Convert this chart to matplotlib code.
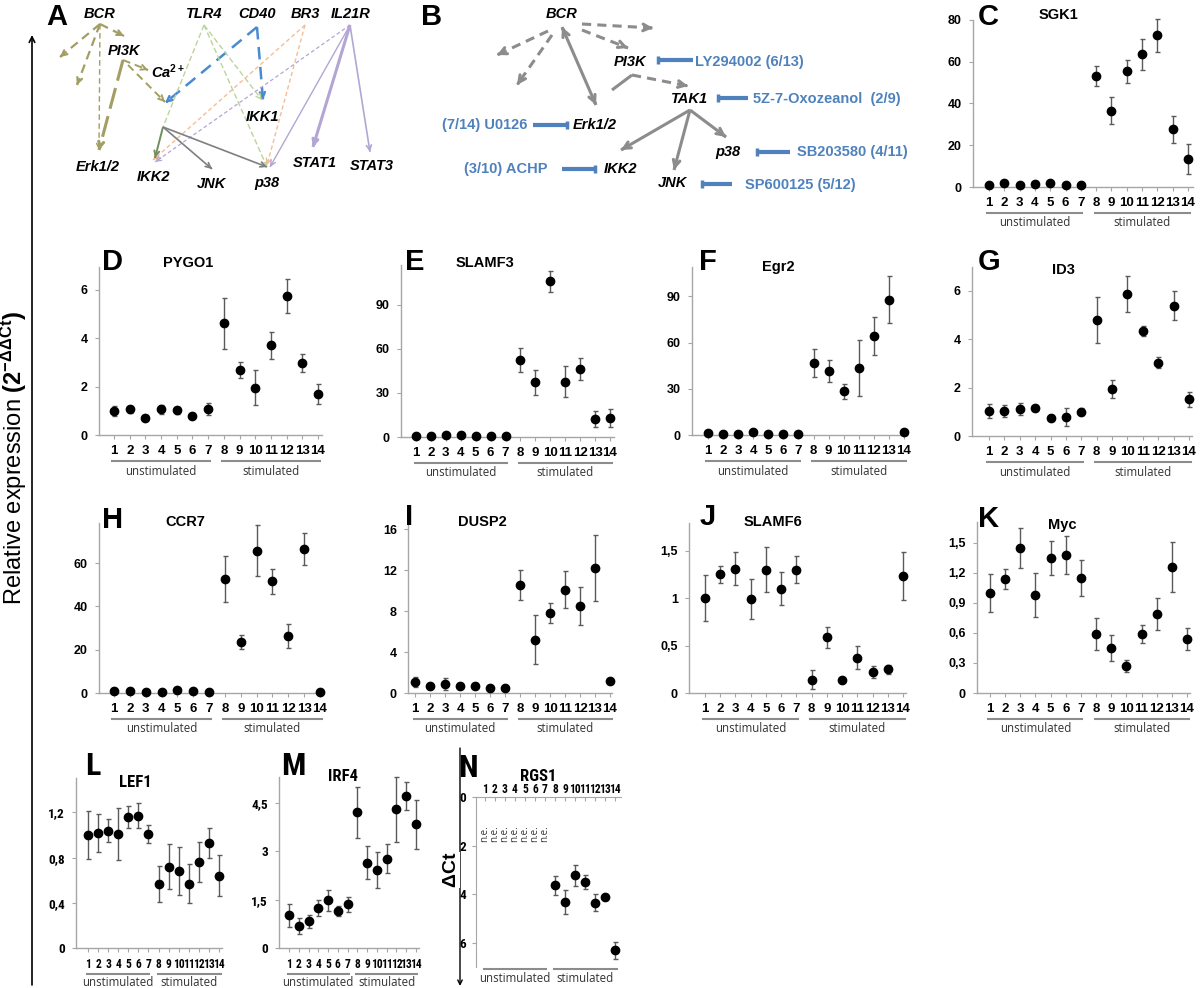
import matplotlib
matplotlib.use('Agg')
import matplotlib.pyplot as plt
from matplotlib.transforms import offset_copy
from matplotlib.patches import FancyArrowPatch

W, H = 1200, 988
plt.rcParams['font.family'] = ['Liberation Sans', 'DejaVu Sans']
plt.rcParams['mathtext.fontset'] = 'custom'
plt.rcParams['mathtext.rm'] = 'Liberation Sans'
plt.rcParams['mathtext.bf'] = 'Liberation Sans:bold'
plt.rcParams['mathtext.it'] = 'Liberation Sans:italic'

# ---------------- data ----------------
samples = list(range(1, 15))
tick_labels = [str(i) for i in samples]
group_labels = ['unstimulated', 'stimulated']

sgk1 = [0.8, 1.8, 1.1, 1.3, 1.9, 1.1, 0.8, 53.3, 36.5, 55.4, 63.5, 72.6, 27.6, 13.5]
sgk1_err = [0.5, 0.6, 0.5, 0.5, 0.6, 0.5, 0.5, 4.7, 6.5, 5.4, 7.4, 7.9, 6.6, 7.1]

pygo1 = [1.0, 1.06, 0.72, 1.06, 1.02, 0.80, 1.06, 4.62, 2.69, 1.96, 3.72, 5.75, 2.97, 1.70]
pygo1_err = [0.22, 0.15, 0.1, 0.2, 0.15, 0.1, 0.25, 1.05, 0.35, 0.72, 0.56, 0.72, 0.37, 0.41]

slamf3 = [1.0, 1.0, 1.2, 1.2, 1.0, 0.5, 1.0, 52.4, 37.1, 106.0, 37.6, 46.2, 12.1, 13.0]
slamf3_err = [0.5, 0.5, 0.5, 0.5, 0.5, 0.3, 0.5, 8.0, 8.5, 7.1, 10.5, 7.6, 5.5, 6.2]

egr2 = [1.1, 0.9, 0.9, 1.7, 0.6, 0.6, 0.6, 46.8, 41.4, 28.5, 43.6, 64.3, 87.8, 1.9]
egr2_err = [0.5, 0.5, 0.5, 0.8, 0.4, 0.4, 0.4, 8.9, 7.0, 4.9, 18.0, 12.4, 15.3, 0.8]

id3 = [1.03, 1.03, 1.10, 1.14, 0.76, 0.80, 1.00, 4.79, 1.94, 5.86, 4.33, 3.03, 5.38, 1.51]
id3_err = [0.27, 0.25, 0.25, 0.07, 0.05, 0.37, 0.15, 0.95, 0.38, 0.74, 0.22, 0.24, 0.58, 0.30]

ccr7 = [1.1, 0.8, 0.5, 0.5, 1.5, 0.8, 0.5, 52.6, 23.4, 65.7, 51.5, 26.2, 66.5, 0.3]
ccr7_err = [0.4, 0.3, 0.2, 0.2, 0.5, 0.3, 0.2, 10.5, 3.3, 11.7, 5.7, 5.5, 7.3, 0.2]

dusp2 = [1.04, 0.65, 0.91, 0.72, 0.65, 0.49, 0.46, 10.5, 5.2, 7.8, 10.08, 8.46, 12.2, 1.14]
dusp2_err = [0.5, 0.15, 0.6, 0.15, 0.15, 0.1, 0.1, 1.47, 2.4, 1.0, 1.8, 1.87, 3.2, 0.15]

slamf6 = [1.00, 1.25, 1.31, 0.99, 1.30, 1.10, 1.30, 0.14, 0.585, 0.14, 0.37, 0.22, 0.25, 1.23]
slamf6_err = [0.24, 0.09, 0.17, 0.21, 0.24, 0.17, 0.14, 0.1, 0.11, 0.02, 0.12, 0.06, 0.05, 0.25]

myc = [1.00, 1.14, 1.45, 0.98, 1.35, 1.38, 1.15, 0.59, 0.45, 0.265, 0.59, 0.79, 1.26, 0.54]
myc_err = [0.19, 0.1, 0.2, 0.22, 0.17, 0.19, 0.18, 0.16, 0.13, 0.06, 0.09, 0.16, 0.25, 0.11]

lef1 = [1.00, 1.02, 1.04, 1.01, 1.16, 1.17, 1.01, 0.57, 0.72, 0.68, 0.57, 0.76, 0.93, 0.64]
lef1_err = [0.21, 0.17, 0.1, 0.23, 0.1, 0.11, 0.08, 0.16, 0.2, 0.21, 0.17, 0.18, 0.13, 0.18]

irf4 = [1.01, 0.68, 0.83, 1.24, 1.48, 1.15, 1.35, 4.20, 2.65, 2.41, 2.77, 4.30, 4.71, 3.83]
irf4_err = [0.35, 0.25, 0.2, 0.26, 0.33, 0.16, 0.24, 0.78, 0.5, 0.55, 0.44, 1.0, 0.43, 0.77]

rgs1_samples = [8, 9, 10, 11, 12, 13, 14]
rgs1_dct = [3.64, 4.32, 3.23, 3.5, 4.35, 4.1, 6.3]
rgs1_err = [0.4, 0.5, 0.43, 0.3, 0.35, 0.1, 0.35]
rgs1_ne_samples = [1, 2, 3, 4, 5, 6, 7]

inhibitors = {
    'PI3K': 'LY294002 (6/13)', 'TAK1': '5Z-7-Oxozeanol  (2/9)', 'p38': 'SB203580 (4/11)',
    'JNK': 'SP600125 (5/12)', 'Erk1/2': '(7/14) U0126', 'IKK2': '(3/10) ACHP'}

# ---------------- figure ----------------
fig = plt.figure(figsize=(W / 100, H / 100), dpi=100)
ov = fig.add_axes([0, 0, 1, 1], zorder=5)
ov.set_xlim(0, W); ov.set_ylim(H, 0); ov.axis('off'); ov.patch.set_alpha(0)

NARROW = ['Roboto Condensed', 'Noto Sans Condensed', 'Liberation Sans Narrow', 'DejaVu Sans']
LIGHT = ['Open Sans', 'DejaVu Sans']
SPINE = '#a6a6a6'
ULINE = '#8c8c8c'


def head(x0, y0, x1, y1, color, lw, ms=9):
    ov.add_patch(FancyArrowPatch((x0, y0), (x1, y1), arrowstyle='->', mutation_scale=ms,
                                 color=color, lw=lw, shrinkA=0, shrinkB=0))


def arrow(x0, y0, x1, y1, color, lw=1.2, ls='-', arrowhead=True, ms=9, both=False):
    ov.plot([x0, x1], [y0, y1], color=color, lw=lw, ls=ls, solid_capstyle='butt')
    if arrowhead:
        f = 0.97
        head(x0 + (x1 - x0) * f, y0 + (y1 - y0) * f, x1, y1, color, lw, ms)
    if both:
        f = 0.03
        head(x0 + (x1 - x0) * f, y0 + (y1 - y0) * f, x0, y0, color, lw, ms)


def inhib(x0, x1, y, color='#4f81bd'):
    ov.plot([x0, x1], [y, y], color=color, lw=3, solid_capstyle='butt')
    ov.plot([x1, x1], [y - 4, y + 4], color=color, lw=2.5, solid_capstyle='butt')


def node(x, y, s, size=10.5):
    ov.text(x, y, s, ha='center', va='center', fontsize=size, fontweight='bold', fontstyle='italic')


# ---------------- panel A ----------------
ov.text(46, 25, 'A', fontsize=21, fontweight='bold', ha='left', va='baseline')
OL = '#a39e62'; LG = '#bcd59a'; OR = '#f5bd94'; PU = '#b3a6d4'; BL = '#4a8ad0'; GR = '#7f7f7f'
arrow(100, 24, 60, 57, OL, 1.6, (0, (4, 2.5)))
arrow(100, 24, 77, 85, OL, 1.6, (0, (4, 2.5)))
arrow(100, 24, 99, 150, OL, 1.0, (0, (4, 2.5)))
arrow(100, 24, 124, 36, OL, 1.6, (0, (4, 2.5)))
arrow(123, 60, 99, 150, OL, 2.2, (0, (7, 2.5)))
arrow(123, 60, 148, 70, OL, 1.4, (0, (4, 2.5)))
arrow(128, 65, 165, 102, OL, 1.4, (0, (4, 2.5)))
arrow(257, 27, 165, 103, BL, 1.8, (0, (5, 3)))
arrow(257, 27, 263, 100, BL, 1.8, (0, (5, 3)))
arrow(204, 25, 163, 127, LG, 1.0, (0, (4, 2)), arrowhead=False)
arrow(204, 25, 262, 100, LG, 1.0, (0, (4, 2)))
arrow(204, 25, 267, 167, LG, 1.0, (0, (4, 2)))
arrow(305, 25, 153, 160, OR, 1.0, (0, (3, 2)))
arrow(305, 25, 267, 165, OR, 1.0, (0, (3, 2)))
arrow(350, 25, 155, 162, PU, 0.9, (0, (3, 2)))
arrow(350, 25, 270, 167, PU, 1.0)
arrow(350, 25, 313, 147, PU, 2.2)
arrow(350, 25, 370, 152, PU, 1.2)
arrow(163, 127, 155, 158, '#6f8f60', 1.4)
arrow(163, 127, 212, 169, GR, 1.2)
arrow(163, 127, 267, 167, GR, 1.2)
for x, y, s in [(100, 14, 'BCR'), (204, 14, 'TLR4'), (257, 14, 'CD40'), (305, 14, 'BR3'),
                (351, 14, 'IL21R'), (124, 51, 'PI3K'), (262, 117, 'IKK1'), (98, 167, 'Erk1/2'),
                (153, 177, 'IKK2'), (212, 184, 'JNK'), (267, 183, 'p38'), (315, 163, 'STAT1'),
                (372, 166, 'STAT3')]:
    node(x, y, s)
ov.text(168, 72, r'Ca$^{\mathbf{2+}}$', ha='center', va='center', fontsize=10.5,
        fontweight='bold', fontstyle='italic')

# ---------------- panel B ----------------
ov.text(421, 25, 'B', fontsize=21, fontweight='bold', ha='left', va='baseline')
BG = '#8c8c8c'; BLU = '#4f81bd'
arrow(548, 31, 497, 55, BG, 2.2, (0, (3, 2)), ms=12)
arrow(552, 35, 517, 85, BG, 2.2, (0, (3, 2)), ms=12)
arrow(582, 24, 653, 28, BG, 2.2, (0, (3, 2)), ms=12)
arrow(582, 30, 628, 48, BG, 2.2, (0, (3, 2)), ms=12)
arrow(562, 27, 596, 105, BG, 2.2, both=True, ms=12)
arrow(632, 75, 612, 90, BG, 2.2, arrowhead=False)
arrow(632, 75, 688, 86, BG, 2.2, (0, (3, 2)), ms=12)
arrow(690, 110, 621, 150, BG, 2.2, ms=12)
arrow(690, 110, 674, 170, BG, 2.2, ms=12)
arrow(690, 110, 726, 137, BG, 2.2, ms=12)
for x, y, s in [(562, 14, 'BCR'), (630, 62, 'PI3K'), (690, 99, 'TAK1'), (595, 125, 'Erk1/2'),
                (728, 152, 'p38'), (620, 169, 'IKK2'), (673, 183, 'JNK')]:
    node(x, y, s)
inhib(693, 658, 60); inhib(748, 718, 98); inhib(790, 757, 152); inhib(732, 702, 184)
inhib(533, 567, 125); inhib(562, 595, 169)
bkw = dict(fontsize=10.5, fontweight='bold', color=BLU, va='center')
ov.text(695, 62, inhibitors['PI3K'], ha='left', **bkw)
ov.text(753, 99, inhibitors['TAK1'], ha='left', **bkw)
ov.text(797, 152, inhibitors['p38'], ha='left', **bkw)
ov.text(745, 185, inhibitors['JNK'], ha='left', **bkw)
ov.text(527, 125, inhibitors['Erk1/2'], ha='right', **bkw)
ov.text(548, 169, inhibitors['IKK2'], ha='right', **bkw)

# ---------------- left label + arrows ----------------
ov.add_patch(FancyArrowPatch((32, 985), (32, 35), arrowstyle='->', mutation_scale=10, color='black', lw=1.2,
                             shrinkA=0, shrinkB=0))
ov.text(14, 458, r'Relative expression $\mathbf{(2^{-\Delta\Delta Ct})}$', rotation=90, fontsize=17,
        ha='center', va='center')
ov.add_patch(FancyArrowPatch((460, 748), (460, 986), arrowstyle='->', mutation_scale=8, color='black', lw=1.0,
                             shrinkA=0, shrinkB=0))
ov.text(451, 870, r'$\mathbf{\Delta Ct}$', rotation=90, fontsize=14, ha='center', va='center',
        bbox=dict(facecolor='white', edgecolor='none', pad=0))


# ---------------- scatter panels ----------------
def panel(L, T, B, p1, p14, R, ymax, vals, errs, yticks, yticklabels, letter, lxy, title, txy,
          narrow=False, ul=26, gt=36):
    fam = NARROW if narrow else ['Liberation Sans', 'DejaVu Sans']
    unit = (p14 - p1) / 13.0
    xlo = 1 - (p1 - L) / unit
    xhi = 14 + (R - p14) / unit
    ax = fig.add_axes([L / W, 1 - B / H, (R - L) / W, (B - T) / H])
    ax.set_xlim(xlo, xhi)
    ax.set_ylim(0, ymax)
    ax.patch.set_alpha(0)
    for s in ['top', 'right']:
        ax.spines[s].set_visible(False)
    for s in ['left', 'bottom']:
        ax.spines[s].set_color(SPINE)
        ax.spines[s].set_linewidth(1.0)
    ax.errorbar(samples, vals, yerr=errs, fmt='o', color='black', ms=6, ecolor='#5a5a5a',
                elinewidth=1.0, capsize=1.8, capthick=1.0, clip_on=False, zorder=3)
    ax.set_yticks(yticks)
    ax.set_yticklabels(yticklabels, fontweight='bold', fontsize=9.5 if narrow else 9, family=fam)
    ax.set_xticks(samples)
    ax.set_xticklabels(tick_labels, fontweight='bold', fontsize=8.3 if narrow else 9.5, family=fam)
    ax.tick_params(axis='y', length=3, color=SPINE, pad=5)
    ax.tick_params(axis='x', length=3, color=SPINE, pad=4)
    tr1 = offset_copy(ax.get_xaxis_transform(), fig=fig, x=0, y=-ul, units='dots')
    tr2 = offset_copy(ax.get_xaxis_transform(), fig=fig, x=0, y=-gt, units='dots')
    for (a, b), lab, c in zip([(0.9, 7.1), (7.9, 14.15)], group_labels, [4, 11]):
        ax.plot([a, b], [0, 0], transform=tr1, color=ULINE, lw=1.5, clip_on=False)
        ax.text(c, 0, lab, transform=tr2, ha='center', va='center', fontsize=8.3,
                family=LIGHT, color='#333333')
    ov.text(lxy[0], lxy[1], letter, fontsize=23 if narrow else 21, fontweight='bold', ha='center',
            va='baseline', family=fam)
    ov.text(txy[0], txy[1], title, fontsize=12 if narrow else 10.5, fontweight='bold', ha='center',
            va='center', family=fam)
    return ax


panel(973, 20, 187, 989, 1188, 1193, 80, sgk1, sgk1_err, [0, 20, 40, 60, 80],
      ['0', '20', '40', '60', '80'], 'C', (988, 25), 'SGK1', (1058, 15))
panel(99, 267, 435, 114, 318, 322, 6.95, pygo1, pygo1_err, [0, 2, 4, 6],
      ['0', '2', '4', '6'], 'D', (113, 270), 'PYGO1', (188, 263))
panel(401, 265, 437, 416, 610, 614, 117, slamf3, slamf3_err, [0, 30, 60, 90],
      ['0', '30', '60', '90'], 'E', (415, 270), 'SLAMF3', (485, 263))
panel(692, 267, 435, 708, 904, 907, 109, egr2, egr2_err, [0, 30, 60, 90],
      ['0', '30', '60', '90'], 'F', (708, 270), 'Egr2', (778, 267))
panel(972, 267, 436, 989, 1189, 1192, 6.97, id3, id3_err, [0, 2, 4, 6],
      ['0', '2', '4', '6'], 'G', (989, 270), 'ID3', (1063, 270))
panel(99, 523, 693, 114, 320, 324, 78.5, ccr7, ccr7_err, [0, 20, 40, 60],
      ['0', '20', '40', '60'], 'H', (113, 528), 'CCR7', (185, 522))
panel(408, 525, 693, 415, 610, 612, 16.4, dusp2, dusp2_err, [0, 4, 8, 12, 16],
      ['0', '4', '8', '12', '16'], 'I', (409, 525), 'DUSP2', (482, 522))
panel(689, 523, 693, 705, 903, 906, 1.79, slamf6, slamf6_err, [0, 0.5, 1, 1.5],
      ['0', '0,5', '1', '1,5'], 'J', (708, 525), 'SLAMF6', (773, 522))
panel(977, 522, 693, 990, 1187, 1190, 1.705, myc, myc_err, [0, 0.3, 0.6, 0.9, 1.2, 1.5],
      ['0', '0,3', '0,6', '0,9', '1,2', '1,5'], 'K', (989, 527), 'Myc', (1062, 525))
panel(76, 778, 948, 88, 219, 222, 1.505, lef1, lef1_err, [0, 0.4, 0.8, 1.2],
      ['0', '0,4', '0,8', '1,2'], 'L', (93, 775), 'LEF1', (135, 782), narrow=True, ul=26, gt=34)
panel(279, 777, 948, 289, 416, 419, 5.3, irf4, irf4_err, [0, 1.5, 3, 4.5],
      ['0', '1,5', '3', '4,5'], 'M', (293, 775), 'IRF4', (343, 776), narrow=True, ul=26, gt=34)

# ---------------- panel N ----------------
L, T, B, p1, p14, R = 476, 797, 967, 485, 615, 621
unit = (p14 - p1) / 13.0
axN = fig.add_axes([L / W, 1 - B / H, (R - L) / W, (B - T) / H])
axN.patch.set_alpha(0)
axN.set_xlim(1 - (p1 - L) / unit, 14 + (R - p14) / unit)
axN.set_ylim(7, 0)
axN.xaxis.tick_top()
for s in ['bottom', 'right']:
    axN.spines[s].set_visible(False)
for s in ['left', 'top']:
    axN.spines[s].set_color(SPINE)
axN.errorbar(rgs1_samples, rgs1_dct, yerr=rgs1_err, fmt='o', color='black', ms=6, ecolor='#5a5a5a',
             elinewidth=1.0, capsize=1.8, capthick=1.0, clip_on=False, zorder=3)
for s in rgs1_ne_samples:
    axN.text(s, 1.5, 'n.e.', rotation=90, ha='center', va='center', fontsize=7, family=LIGHT, color='#333333')
axN.set_yticks([0, 2, 4, 6])
axN.set_yticklabels(['0', '2', '4', '6'], fontweight='bold', fontsize=9.5, family=NARROW)
axN.set_xticks(samples)
axN.set_xticklabels(tick_labels, fontweight='bold', fontsize=8.3, family=NARROW)
axN.tick_params(axis='y', length=3, color=SPINE, pad=4)
axN.tick_params(axis='x', length=3, color=SPINE, pad=1, direction='in')
tr1 = offset_copy(axN.get_xaxis_transform(), fig=fig, x=0, y=-2, units='dots')
tr2 = offset_copy(axN.get_xaxis_transform(), fig=fig, x=0, y=-11, units='dots')
for (a, b), lab, c in zip([(0.9, 7.1), (7.9, 14.15)], group_labels, [4, 11]):
    axN.plot([a, b], [0, 0], transform=tr1, color=ULINE, lw=1.5, clip_on=False)
    axN.text(c, 0, lab, transform=tr2, ha='center', va='center', fontsize=8.3, family=LIGHT, color='#333333')
ov.text(468, 777, 'N', fontsize=23, fontweight='bold', ha='center', va='baseline', family=NARROW)
ov.text(538, 776, 'RGS1', fontsize=12, fontweight='bold', ha='center', va='center', family=NARROW)

fig.savefig('out.png', dpi=100)
